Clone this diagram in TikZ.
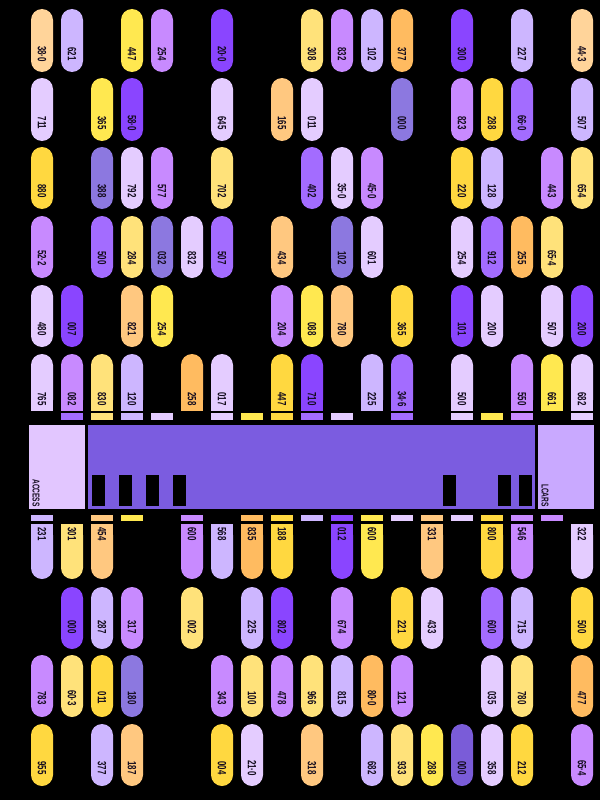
\documentclass[tikz,border=0pt]{standalone}
\usepackage{fontspec}
\newfontfamily\lc{Liberation Sans}[FakeStretch=0.66]
\definecolor{cPeach}{HTML}{FFD49A}
\definecolor{cOrange}{HTML}{FFBB60}
\definecolor{cLorange}{HTML}{FFC880}
\definecolor{cYellow}{HTML}{FFE850}
\definecolor{cGold}{HTML}{FFD840}
\definecolor{cPyellow}{HTML}{FFE27A}
\definecolor{cLilac}{HTML}{CDB6FF}
\definecolor{cVlight}{HTML}{E4CCFF}
\definecolor{cMpurple}{HTML}{C88AFF}
\definecolor{cPurple}{HTML}{A36CFF}
\definecolor{cViolet}{HTML}{8A45FF}
\definecolor{cSlate}{HTML}{8C78E0}
\definecolor{cSlateB}{HTML}{7A5CD8}
\definecolor{cBand}{HTML}{7B5CE0}
\definecolor{cAccess}{HTML}{E2C6FF}
\definecolor{cLcars}{HTML}{C9A9FF}
\definecolor{cText}{HTML}{140C1E}
\tikzset{
  lbl/.style={font=\lc\bfseries\fontsize{12}{12}\selectfont, rotate=-90, text=cText, inner sep=0pt},
  boxlbl/.style={font=\lc\bfseries\fontsize{10}{10}\selectfont, rotate=-90, text=cText, inner sep=0pt, anchor=east}
}
% #1 top, #2 bottom, #3 text y, #4 mode (0 round, 1 flat bottom, 2 flat top), #5 list
\newcommand\PillRow[5]{%
  \foreach \c/\col/\t in {#5}{
    \pgfmathsetmacro\cx{42+30*\c}
    \fill[\col, rounded corners=11pt] (\cx-11,#1) rectangle (\cx+11,#2);
    \ifcase#4\or
      \fill[\col] (\cx-11,#2-14) rectangle (\cx+11,#2);
    \or
      \fill[\col] (\cx-11,#1) rectangle (\cx+11,#1+14);
    \fi
    \node[lbl] (lab-#3-\c) at (\cx,#3) {\t};
  }}
% #1 top, #2 bottom, #3 list
\newcommand\TabRow[3]{%
  \foreach \c/\col in {#3}{
    \pgfmathsetmacro\cx{42+30*\c}
    \fill[\col] (\cx-11,#1) rectangle (\cx+11,#2);
  }}
\begin{document}
\begin{tikzpicture}[x=1pt,y=-1pt]
\useasboundingbox (0,0) rectangle (600,800);
\fill[black] (0,0) rectangle (600,800);
% top rows
\PillRow{9}{72}{54}{0}{0/cPeach/38·0, 1/cLilac/621, 3/cYellow/447, 4/cMpurple/254, 6/cViolet/20·0, 9/cPyellow/308, 10/cMpurple/832, 11/cLilac/102, 12/cOrange/377, 14/cViolet/300, 16/cLilac/227, 18/cPeach/44·3}
\PillRow{78}{141}{123}{0}{0/cVlight/711, 2/cYellow/365, 3/cViolet/58·0, 6/cVlight/645, 8/cLorange/165, 9/cVlight/011, 12/cSlate/000, 14/cMpurple/823, 15/cGold/288, 16/cPurple/66·0, 18/cLilac/507}
\PillRow{147}{209}{191}{0}{0/cGold/880, 2/cSlate/388, 3/cVlight/792, 4/cMpurple/577, 6/cPyellow/702, 9/cPurple/402, 10/cVlight/35·0, 11/cMpurple/45·0, 14/cGold/220, 15/cLilac/128, 17/cMpurple/443, 18/cPyellow/654}
\PillRow{216}{278}{258}{0}{0/cMpurple/52·2, 2/cPurple/500, 3/cPyellow/284, 4/cSlate/032, 5/cVlight/832, 6/cPurple/507, 8/cLorange/434, 10/cSlate/102, 11/cVlight/601, 14/cVlight/254, 15/cPurple/912, 16/cOrange/255, 17/cPyellow/65·4}
\PillRow{285}{347}{329}{0}{0/cVlight/480, 1/cViolet/007, 3/cLorange/821, 4/cYellow/254, 8/cMpurple/204, 9/cYellow/088, 10/cLorange/780, 12/cGold/365, 14/cViolet/101, 15/cVlight/200, 17/cVlight/507, 18/cViolet/200}
\PillRow{354}{411}{399}{1}{0/cVlight/765, 1/cMpurple/082, 2/cPyellow/830, 3/cLilac/120, 5/cOrange/258, 6/cVlight/017, 8/cGold/447, 9/cViolet/710, 11/cLilac/225, 12/cPurple/34·6, 14/cVlight/500, 16/cMpurple/550, 17/cYellow/661, 18/cVlight/682}
% small tabs above band
\TabRow{413}{420}{1/cPurple, 2/cPyellow, 3/cLilac, 4/cVlight, 6/cVlight, 7/cYellow, 8/cGold, 9/cPurple, 10/cVlight, 12/cPurple, 14/cVlight, 15/cYellow, 16/cMpurple, 18/cVlight}
% band
\fill[cAccess] (29,425) rectangle (85,509);
\node[boxlbl] (access) at (36,507) {ACCESS};
\fill[cBand] (88,425) rectangle (535,509);
\fill[cLcars] (538,425) rectangle (594,509);
\node[boxlbl] (lcars) at (545,507) {LCARS};
\foreach \bx in {92,119,146,173,443,498,519}{
  \fill[black] (\bx,475) rectangle (\bx+13,506);
}
% small tabs below band
\TabRow{515}{521}{0/cLilac, 2/cLorange, 3/cYellow, 5/cMpurple, 7/cOrange, 8/cGold, 9/cLilac, 10/cViolet, 11/cYellow, 12/cVlight, 13/cLorange, 14/cVlight, 15/cGold, 16/cMpurple, 17/cMpurple}
% bottom rows
\PillRow{524}{579}{534}{2}{0/cLilac/231, 1/cPyellow/301, 2/cLorange/454, 5/cMpurple/600, 6/cLilac/568, 7/cOrange/835, 8/cGold/188, 10/cViolet/012, 11/cYellow/600, 13/cLorange/331, 15/cGold/800, 16/cMpurple/546, 18/cVlight/322}
\PillRow{587}{649}{627}{0}{1/cViolet/000, 2/cLilac/287, 3/cMpurple/317, 5/cPyellow/002, 7/cLilac/225, 8/cViolet/802, 10/cMpurple/674, 12/cGold/221, 13/cVlight/433, 15/cPurple/600, 16/cLilac/715, 18/cGold/500}
\PillRow{655}{717}{698}{0}{0/cMpurple/783, 1/cPyellow/60·3, 2/cGold/011, 3/cSlate/180, 6/cMpurple/343, 7/cPyellow/100, 8/cMpurple/478, 9/cPyellow/966, 10/cLilac/815, 11/cOrange/80·0, 12/cMpurple/121, 15/cVlight/035, 16/cPyellow/780, 18/cOrange/477}
\PillRow{724}{786}{768}{0}{0/cGold/955, 2/cLilac/377, 3/cLorange/187, 6/cGold/004, 7/cVlight/21·0, 9/cLorange/318, 11/cLilac/682, 12/cPyellow/933, 13/cYellow/288, 14/cSlateB/000, 15/cVlight/358, 16/cGold/212, 18/cMpurple/65·4}
\end{tikzpicture}
\end{document}
